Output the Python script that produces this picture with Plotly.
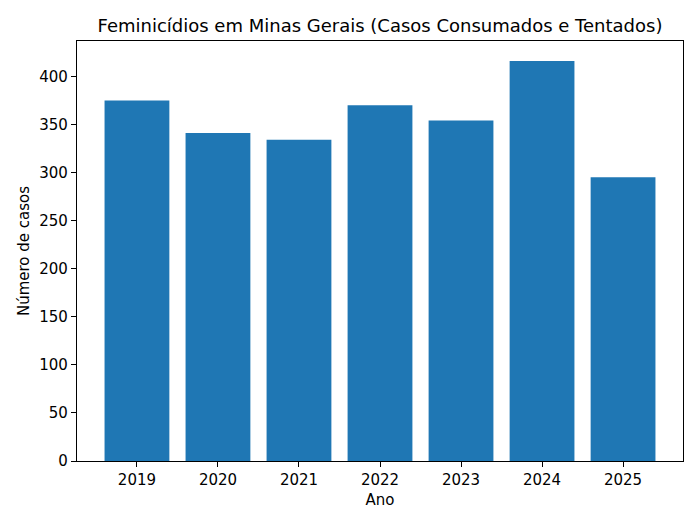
import plotly.graph_objects as go

anos = ["2019", "2020", "2021", "2022", "2023", "2024", "2025"]
casos = [375, 341, 334, 370, 354, 416, 295]

font = "DejaVu Sans"

fig = go.Figure(go.Bar(x=anos, y=casos, marker=dict(color="#1f77b4", line=dict(width=0)), width=0.8))

fig.update_layout(
    width=700, height=525,
    paper_bgcolor="white", plot_bgcolor="white",
    margin=dict(l=77, r=17, t=41, b=64),
    font=dict(family=font, size=15, color="black"),
    title=dict(text="Feminicídios em Minas Gerais (Casos Consumados e Tentados)",
               x=380/700, xanchor="center", y=1-26/525, yanchor="middle",
               font=dict(family=font, size=18, color="black")),
    showlegend=False,
)
fig.update_xaxes(
    type="category", range=[-0.74, 6.74],
    showline=True, linecolor="black", linewidth=1.2, mirror=True,
    ticks="outside", ticklen=5, tickwidth=1.2, tickcolor="black",
    showgrid=False, zeroline=False,
    title=dict(text="Ano", font=dict(size=15), standoff=6),
    tickfont=dict(size=15),
)
fig.update_yaxes(
    range=[0, 436.8], tickvals=[0, 50, 100, 150, 200, 250, 300, 350, 400],
    showline=True, linecolor="black", linewidth=1.2, mirror=True,
    ticks="outside", ticklen=5, tickwidth=1.2, tickcolor="black",
    showgrid=False, zeroline=False,
    title=dict(text="Número de casos", font=dict(size=15), standoff=6),
    tickfont=dict(size=15),
)

fig.write_html("out.html")
